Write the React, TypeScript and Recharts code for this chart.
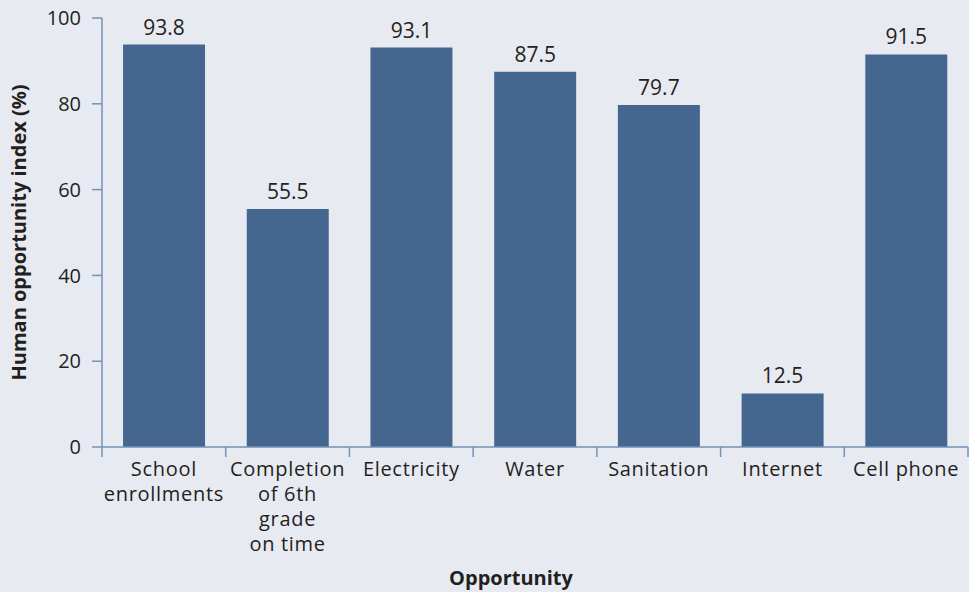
import { BarChart, Bar, XAxis, YAxis, LabelList } from "recharts";

const categories = [
  "School enrollments",
  "Completion of 6th grade on time",
  "Electricity",
  "Water",
  "Sanitation",
  "Internet",
  "Cell phone",
];

// how each category name is broken over lines under the axis
const categoryLines = [
  ["School", "enrollments"],
  ["Completion", "of 6th", "grade", "on time"],
  ["Electricity"],
  ["Water"],
  ["Sanitation"],
  ["Internet"],
  ["Cell phone"],
];

const hoiValues = [93.8, 55.5, 93.1, 87.5, 79.7, 12.5, 91.5];

const yTicks = [0, 20, 40, 60, 80, 100];

const BG = "#e8eaf2";
const BAR = "#44668f";
const AXIS = "#7392b9";
const INK = "#231f20";
const FONT = "'Open Sans', 'Liberation Sans', Arial, sans-serif";

const data = categories.map((name, i) => ({ name, value: hoiValues[i], idx: i }));

const CategoryTick = (props: any) => {
  const { x, y, payload, index } = props;
  const half = payload.offset ?? 0;
  const lines = categoryLines[index] ?? [String(payload.value)];
  return (
    <g>
      <line x1={x - half} x2={x - half} y1={y} y2={y + 10} stroke={AXIS} strokeWidth={1.5} />
      {index === categories.length - 1 && (
        <line x1={x + half} x2={x + half} y1={y} y2={y + 10} stroke={AXIS} strokeWidth={1.5} />
      )}
      <text
        x={x}
        y={y}
        textAnchor="middle"
        fill={INK}
        fontSize={20}
        letterSpacing={0.7}
        fontFamily={FONT}
      >
        {lines.map((l, i) => (
          <tspan key={i} x={x} dy={i === 0 ? 29 : 25}>
            {l}
          </tspan>
        ))}
      </text>
    </g>
  );
};

export default function App() {
  return (
    <div style={{ position: "absolute", left: 0, top: 0, width: 969, height: 592, background: BG }}>
      <BarChart
        width={969}
        height={592}
        data={data}
        margin={{ top: 18, right: 1, left: 0, bottom: 0 }}
        barCategoryGap="17%"
      >
        <XAxis
          dataKey="name"
          height={145}
          interval={0}
          tickSize={0}
          tickMargin={0}
          tickLine={false}
          axisLine={{ stroke: AXIS, strokeWidth: 1.5 }}
          tick={<CategoryTick />}
          label={{
            content: ({ viewBox }: any) => (
              <text
                x={511}
                y={viewBox.y + viewBox.height - 7}
                textAnchor="middle"
                fill={INK}
                fontSize={20}
                fontWeight="bold"
                fontFamily={FONT}
              >
                Opportunity
              </text>
            ),
          }}
        />
        <YAxis
          width={102}
          domain={[0, 100]}
          ticks={yTicks}
          interval={0}
          tickSize={10}
          tickMargin={11}
          tickLine={{ stroke: AXIS, strokeWidth: 1.5 }}
          axisLine={{ stroke: AXIS, strokeWidth: 1.5 }}
          tick={{ fill: INK, fontSize: 20, fontFamily: FONT }}
          label={{
            content: ({ viewBox }: any) => {
              const cx = 18;
              const cy = viewBox.y + viewBox.height / 2;
              return (
                <text
                  x={cx}
                  y={cy}
                  transform={`rotate(-90 ${cx} ${cy})`}
                  textAnchor="middle"
                  dominantBaseline="central"
                  fill={INK}
                  fontSize={20}
                  fontWeight="bold"
                  fontFamily={FONT}
                >
                  Human opportunity index (%)
                </text>
              );
            },
          }}
        />
        <Bar dataKey="value" fill={BAR} isAnimationActive={false}>
          <LabelList
            dataKey="value"
            position="top"
            offset={10}
            fill={INK}
            fontSize={21}
            fontFamily={FONT}
            formatter={(v: any) => Number(v).toFixed(1)}
          />
        </Bar>
      </BarChart>
    </div>
  );
}
